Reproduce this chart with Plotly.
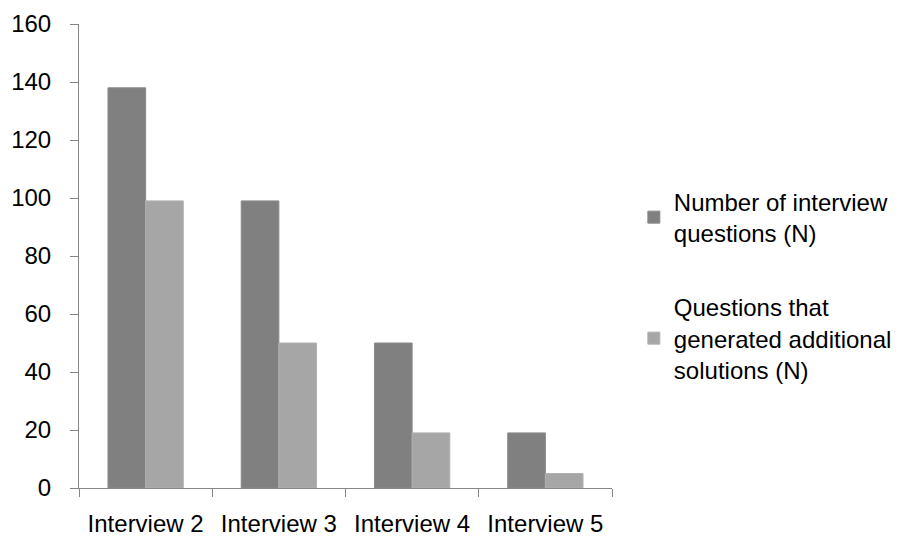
import plotly.graph_objects as go

# Data
interviews = ['Interview 2', 'Interview 3', 'Interview 4', 'Interview 5']
num_questions = [138, 99, 50, 19]
additional_solutions = [99, 50, 19, 5]
y_ticks = [0, 20, 40, 60, 80, 100, 120, 140, 160]

axis_color = '#868686'
font_family = 'Liberation Sans, Arial, sans-serif'

fig = go.Figure()
fig.add_trace(go.Bar(
    x=interviews,
    y=num_questions,
    name='Number of interview<br>questions (N)',
    legendgroup='a',
    marker=dict(color='#808080', line=dict(color='#8a8a8a', width=1)),
))
fig.add_trace(go.Bar(
    x=interviews,
    y=additional_solutions,
    name='Questions that<br>generated additional<br>solutions (N)',
    legendgroup='b',
    marker=dict(color='#a6a6a6', line=dict(color='#b0b0b0', width=1)),
))

# the page body has an 8px margin, so the margins are shifted to compensate
fig.update_layout(
    width=920,
    height=540,
    margin=dict(l=71, r=316, t=16, b=60, autoexpand=False),
    paper_bgcolor='white',
    plot_bgcolor='white',
    barmode='group',
    bargap=0.435,
    bargroupgap=0,
    font=dict(family=font_family, size=24, color='#000000'),
    showlegend=True,
    legend=dict(
        x=1.041,
        xanchor='left',
        y=0.665,
        yanchor='top',
        tracegroupgap=40,
        itemwidth=30,
        font=dict(size=24),
        bgcolor='rgba(0,0,0,0)',
    ),
    xaxis=dict(
        type='category',
        automargin=False,
        showline=True,
        linecolor=axis_color,
        linewidth=1,
        ticks='outside',
        tickson='boundaries',
        ticklen=8,
        tickcolor=axis_color,
        showgrid=False,
        ticklabelstandoff=14,
        tickfont=dict(size=24),
    ),
    yaxis=dict(
        range=[0, 160],
        tickvals=y_ticks,
        automargin=False,
        showline=True,
        linecolor=axis_color,
        linewidth=1,
        ticks='outside',
        ticklen=8,
        tickcolor=axis_color,
        showgrid=False,
        zeroline=False,
        ticklabelstandoff=14,
        tickfont=dict(size=24),
    ),
)

fig.write_html('out.html')
